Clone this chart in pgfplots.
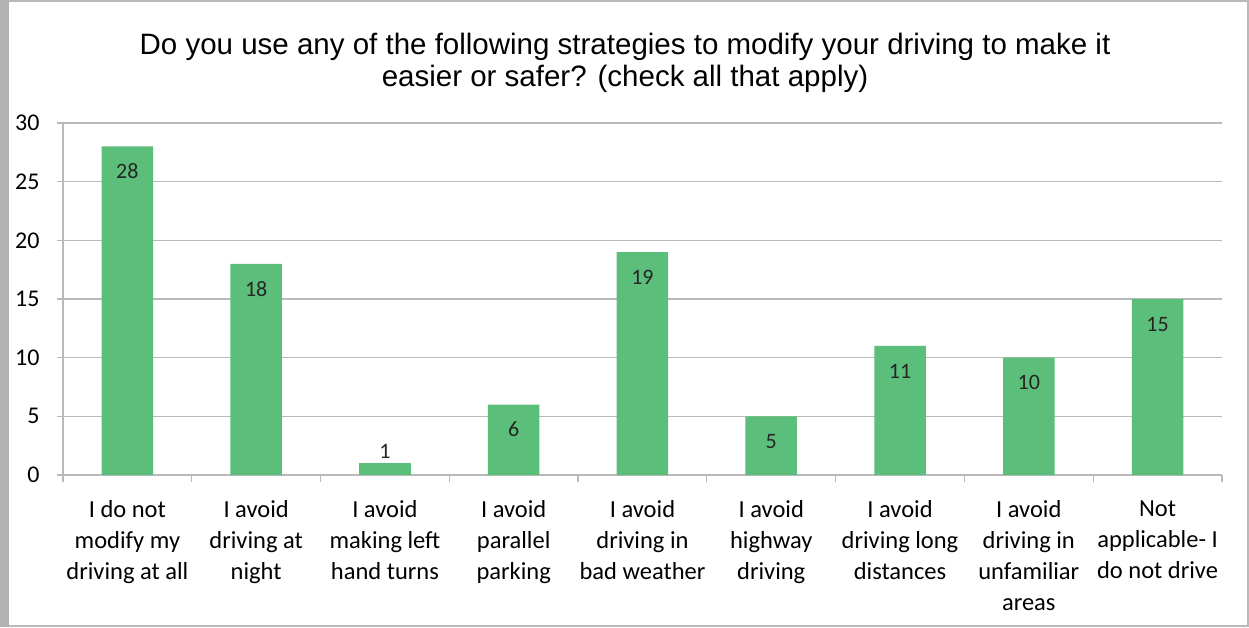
\documentclass[border=0pt]{standalone}
\usepackage{fontspec}
\setmainfont{Carlito}
\newfontfamily\titlefont{Liberation Sans}
\usepackage{pgfplots}
\pgfplotsset{compat=1.18}
\definecolor{bargreen}{RGB}{91,190,122}
\definecolor{gridgray}{RGB}{185,185,185}

\begin{document}
\begin{tikzpicture}[x=1pt,y=1pt]
\useasboundingbox (0,0) rectangle (1249,627);
\fill[white] (0,0) rectangle (1249,627);
\draw[gray!55, line width=2pt] (1,1) rectangle (1248,626);
\fill[gray!60] (0,0) rectangle (9,627);
\node[font=\titlefont\fontsize{29.5}{32}\selectfont, align=center] at (625,564)
  {Do you use any of the following strategies to modify your driving to make it\\easier or safer? (check all that apply)};
\begin{axis}[
    at={(63pt,152pt)}, anchor=south west,
    width=1159pt, height=352pt, scale only axis,
    ybar, bar width=0.4, bar shift=0pt,
    xmin=-0.5, xmax=8.5, ymin=0, ymax=30,
    ytick={0,5,...,30},
    xtick={0,...,8},
    xticklabels={
      {I do not\\modify my\\driving at all},
      {I avoid\\driving at\\night},
      {I avoid\\making left\\hand turns},
      {I avoid\\parallel\\parking},
      {I avoid\\driving in\\bad weather},
      {I avoid\\highway\\driving},
      {I avoid\\driving long\\distances},
      {I avoid\\driving in\\unfamiliar\\areas},
      {Not\\applicable- I\\do not drive}},
    xticklabel style={align=center, font=\fontsize{24.5}{31}\selectfont, yshift=-16pt},
    yticklabel style={font=\fontsize{24}{26}\selectfont, xshift=-14pt},
    /pgf/number format/assume math mode=true,
    axis lines=left, axis line style={-, gridgray, line width=1.2pt},
    ymajorgrids, grid style={gridgray, line width=1.2pt},
    tick align=outside, major tick length=6pt,
    ytick style={gridgray, line width=1.2pt},
    xtick style={draw=none},
    extra x ticks={-0.5,0.5,...,8.5},
    extra x tick labels={},
    extra x tick style={grid=none, xtick style={draw=gridgray, line width=1.2pt}, major tick length=7pt},
    nodes near coords,
    every node near coord/.append style={font=\fontsize{22}{24}\selectfont, text=black!85},
]
\addplot[fill=bargreen, draw=none,
  every node near coord/.append style={anchor=center, yshift=-25pt}]
  coordinates {(0,28) (1,18) (3,6) (4,19) (5,5) (6,11) (7,10) (8,15)};
\addplot[fill=bargreen, draw=none,
  every node near coord/.append style={anchor=center, yshift=12pt}]
  coordinates {(2,1)};
\end{axis}
\end{tikzpicture}
\end{document}
